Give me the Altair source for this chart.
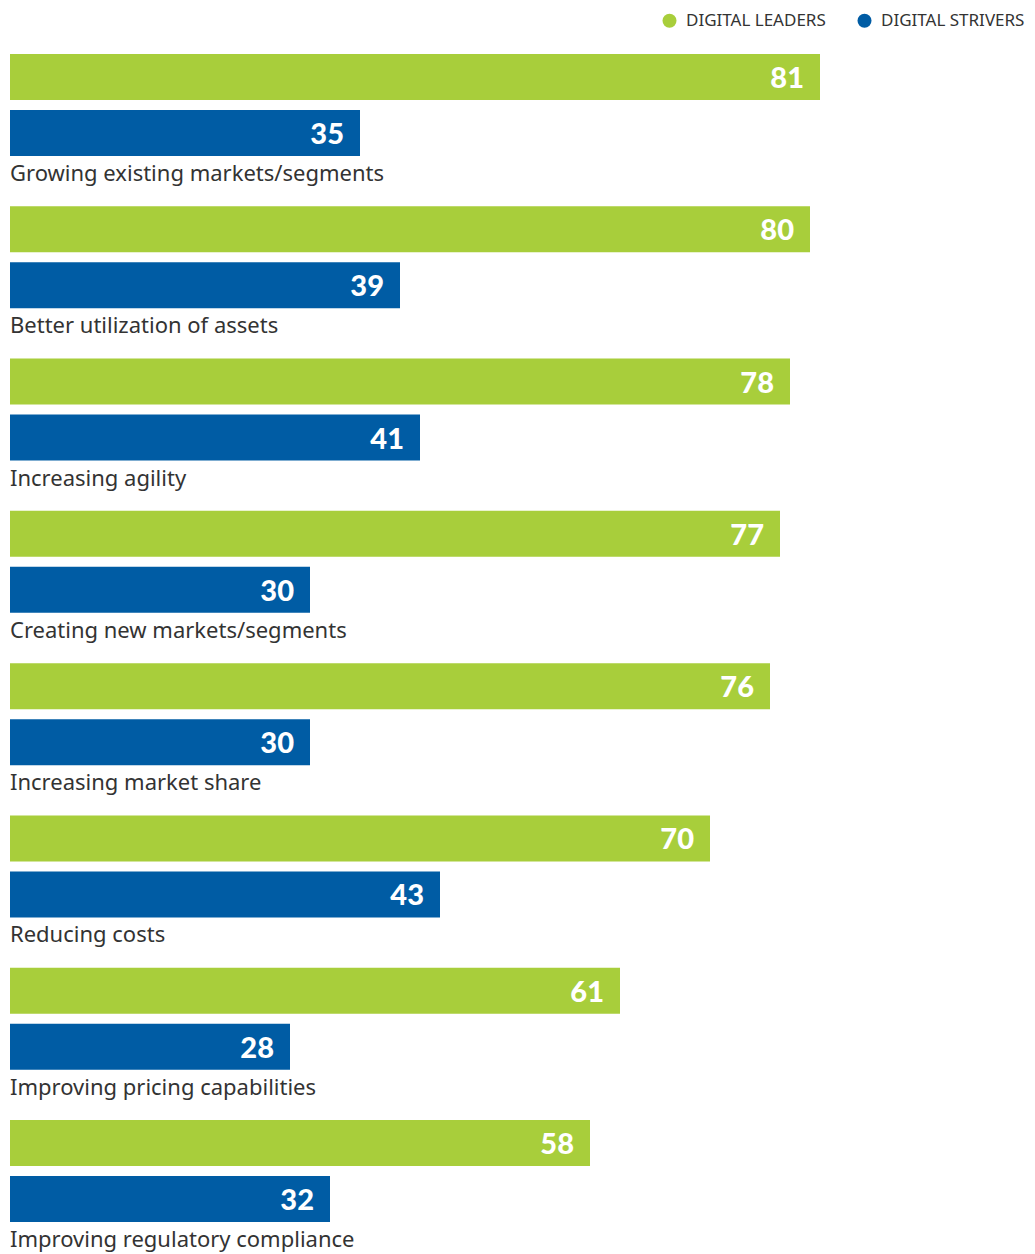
import altair as alt
import pandas as pd

categories = [
    "Growing existing markets/segments",
    "Better utilization of assets",
    "Increasing agility",
    "Creating new markets/segments",
    "Increasing market share",
    "Reducing costs",
    "Improving pricing capabilities",
    "Improving regulatory compliance",
]
leaders = [81, 80, 78, 77, 76, 70, 61, 58]
strivers = [35, 39, 41, 30, 30, 43, 28, 32]
series_names = ["DIGITAL LEADERS", "DIGITAL STRIVERS"]
colors = ["#A8CE3B", "#005CA4"]

rows = []
for c, l, s in zip(categories, leaders, strivers):
    rows.append({"category": c, "series": series_names[0], "value": l})
    rows.append({"category": c, "series": series_names[1], "value": s})
df = pd.DataFrame(rows)

y_enc = alt.Y("category:N", sort=categories, axis=None,
              scale=alt.Scale(paddingInner=0.33, paddingOuter=0))
yoff_enc = alt.YOffset("series:N", sort=series_names,
                       scale=alt.Scale(paddingInner=0.1786, paddingOuter=0))
x_enc = alt.X("value:Q", axis=None, scale=alt.Scale(domain=[0, 100]))

base = alt.Chart(df)

bars = base.mark_bar().encode(
    x=x_enc,
    y=y_enc,
    yOffset=yoff_enc,
    color=alt.Color(
        "series:N",
        sort=series_names,
        scale=alt.Scale(domain=series_names, range=colors),
        legend=alt.Legend(
            title=None,
            orient="none",
            legendX=651,
            legendY=-42,
            padding=0,
            direction="horizontal",
            symbolType="circle",
            symbolSize=196,
            symbolStrokeWidth=0,
            labelFontSize=17,
            labelFont="Noto Sans",
            labelColor="#333333",
            labelOffset=8,
            labelLimit=300,
            columnPadding=30,
        ),
    ),
)

values = base.mark_text(
    align="right", baseline="middle", dx=-16, dy=2,
    font="Lato", fontWeight=900, fontSize=29, color="white",
).encode(
    x=x_enc,
    y=y_enc,
    yOffset=yoff_enc,
    text=alt.Text("value:Q"),
)

labels = base.transform_filter(
    alt.datum.series == series_names[1]
).mark_text(
    align="left", baseline="alphabetic", dy=48,
    font="Noto Sans", fontSize=22, color="#333333",
).encode(
    x=alt.value(0),
    y=y_enc,
    yOffset=yoff_enc,
    text="category:N",
)

chart = alt.layer(bars, values, labels).properties(
    width=1000,
    height=1168,
    padding={"left": 2, "top": 4, "right": 0, "bottom": 5},
).configure_view(stroke=None)

chart.save("out.html", embed_options={"renderer": "svg", "actions": False})
